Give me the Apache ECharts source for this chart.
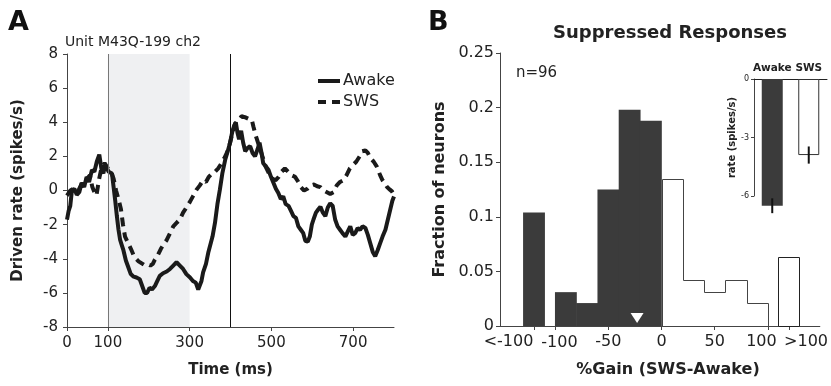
<!DOCTYPE html>
<html>
<head>
<meta charset="utf-8">
<script src="https://cdn.jsdelivr.net/npm/echarts@6/dist/echarts.min.js"></script>
<style>
  html, body { margin: 0; padding: 0; background: #fff; }
  #chart { width: 831px; height: 386px; }
</style>
</head>
<body>
<div id="chart"></div>
<script>
// Panel A: driven rate traces (ms, spikes/s)
const awakeTime = [0, 4, 8, 12, 18, 24, 30, 36, 42, 48, 54, 61, 67, 73, 79, 84, 89, 93, 97, 102, 106, 110, 114, 118, 122, 126, 130, 134, 138, 144, 150, 156, 163, 170, 178, 184, 190, 196, 202, 208, 215, 221, 227, 235, 244, 252, 260, 268, 276, 284, 292, 301, 308, 315, 321, 325, 329, 333, 340, 346, 350, 356, 362, 368, 374, 380, 387, 392, 399, 404, 409, 413, 417, 421, 426, 431, 436, 442, 448, 454, 460, 466, 471, 476, 480, 487, 493, 499, 505, 511, 517, 523, 529, 535, 542, 548, 554, 560, 566, 572, 578, 583, 589, 594, 599, 603, 609, 615, 620, 626, 632, 638, 644, 650, 656, 662, 668, 674, 681, 687, 693, 699, 705, 711, 717, 723, 730, 736, 742, 748, 754, 760, 766, 772, 779, 785, 791, 796, 800];
const awakeRate = [-1.7, -1.2, -0.9, 0.0, 0.1, -0.25, -0.1, 0.45, 0.2, 0.8, 0.5, 1.2, 1.1, 1.7, 2.1, 1.3, 1.0, 1.5, 1.4, 1.1, 1.2, 1.0, 0.2, -0.6, -1.5, -2.3, -2.9, -3.2, -3.5, -4.1, -4.5, -4.9, -5.05, -5.1, -5.2, -5.6, -6.0, -6.0, -5.7, -5.8, -5.6, -5.3, -5.0, -4.85, -4.75, -4.6, -4.4, -4.2, -4.4, -4.6, -4.9, -5.1, -5.3, -5.4, -5.8, -5.9, -5.3, -4.8, -4.3, -3.6, -3.5, -2.7, -1.9, -0.8, 0.05, 1.0, 1.8, 2.2, 2.8, 3.4, 3.8, 4.0, 3.4, 3.0, 3.5, 2.8, 2.3, 2.5, 2.6, 2.2, 2.0, 2.4, 2.8, 2.2, 1.6, 1.4, 1.2, 0.8, 0.45, 0.1, -0.15, -0.5, -0.35, -0.8, -0.9, -1.2, -1.5, -1.6, -2.1, -2.3, -2.5, -2.95, -3.0, -2.7, -2.0, -1.7, -1.3, -1.1, -0.95, -1.3, -1.5, -1.0, -0.75, -0.9, -1.7, -2.1, -2.3, -2.5, -2.7, -2.4, -2.1, -2.6, -2.5, -2.2, -2.3, -2.1, -2.2, -2.6, -3.1, -3.6, -3.85, -3.5, -3.1, -2.7, -2.3, -1.7, -1.1, -0.6, -0.35];

const swsTime = [0, 8, 16, 26, 36, 46, 56, 62, 67, 72, 78, 85, 92, 100, 108, 114, 120, 126, 132, 137, 142, 150, 156, 165, 175, 188, 196, 204, 210, 215, 222, 230, 238, 244, 252, 260, 268, 276, 284, 292, 301, 309, 317, 325, 333, 340, 347, 355, 362, 370, 378, 385, 391, 399, 405, 411, 419, 427, 435, 444, 452, 456, 462, 470, 478, 486, 494, 502, 510, 518, 525, 533, 541, 549, 558, 566, 572, 580, 588, 596, 604, 612, 620, 628, 636, 644, 652, 660, 668, 676, 684, 692, 700, 708, 716, 722, 730, 736, 742, 750, 758, 766, 772, 778, 783, 790, 795, 800];
const swsRate = [-0.3, 0.0, 0.1, -0.1, 0.4, 0.6, 0.9, 0.2, -0.1, -0.3, 0.6, 1.4, 1.6, 1.3, 1.1, 0.7, 0.0, -0.5, -1.1, -2.0, -2.7, -3.1, -3.4, -3.9, -4.15, -4.35, -4.3, -4.4, -4.3, -4.05, -3.8, -3.4, -3.1, -2.9, -2.5, -2.1, -1.9, -1.7, -1.3, -1.0, -0.65, -0.3, 0.05, 0.3, 0.6, 0.5, 0.8, 1.0, 1.1, 1.3, 1.6, 1.9, 2.2, 2.8, 3.4, 3.9, 4.1, 4.35, 4.3, 4.2, 4.15, 3.75, 3.2, 2.6, 2.0, 1.4, 1.0, 0.7, 0.6, 0.8, 1.1, 1.3, 1.1, 0.9, 0.8, 0.5, 0.2, 0.0, 0.1, 0.3, 0.35, 0.25, 0.2, 0.0, -0.1, -0.2, -0.1, 0.3, 0.5, 0.6, 0.9, 1.3, 1.5, 1.7, 2.0, 2.3, 2.35, 2.2, 1.9, 1.7, 1.4, 0.9, 0.6, 0.4, 0.2, 0.05, -0.05, -0.25];

const timeTicks = [0, 100, 300, 500, 700];
const stimWindow = [100, 300];
const eventLines = [100, 400];

// Panel B: histogram of %gain, bins of 20
const gainMin = -152;
const gainMax = 149;
const gainBinStart = [-130, -100, -80, -60, -40, -20, 0, 20, 40, 60, 80, 110];
const gainFraction = [0.104, 0.031, 0.021, 0.125, 0.198, 0.188, 0.135, 0.042, 0.031, 0.042, 0.021, 0.063];
const gainBinWidth = 20;
const gainTicks = [-120, -100, -50, 0, 50, 100, 120];
// where the tick texts sit (set a little off their ticks, as in the figure)
const gainLabelAt = [-50, 0, 50, 94];
const gainLabelText = ['-50', '0', '50', '100'];
const overflowLabelAt = [-144, 136];
const overflowLabelText = ['<-100', '>100'];
const minusHundredAt = -96;
const gainMedian = -23;

// inset: mean rate and error
const insetStates = ['Awake', 'SWS'];
const insetRate = [-6.5, -3.9];
const insetErr = [0.38, 0.44];

const FONT = 'DejaVu Sans';
const DARK = '#3b3b3b';
const AXIS = '#444';

const chart = echarts.init(document.getElementById('chart'));

const texts = [
    { type: 'text', x: 8, y: 23, style: { text: 'A', font: 'bold 27px "DejaVu Sans"', verticalAlign: 'middle', fill: '#111' } },
    { type: 'text', x: 428, y: 23, style: { text: 'B', font: 'bold 27px "DejaVu Sans"', verticalAlign: 'middle', fill: '#111' } },
    { type: 'text', x: 65, y: 42, style: { text: 'Unit M43Q-199 ch2', font: '14px "DejaVu Sans"', verticalAlign: 'middle', fill: '#222' } },
    { type: 'text', x: 670, y: 33, style: { text: 'Suppressed Responses', font: 'bold 18px "DejaVu Sans"', align: 'center', verticalAlign: 'middle', fill: '#222' } },
    { type: 'text', x: 516, y: 73, style: { text: 'n=96', font: '15px "DejaVu Sans"', verticalAlign: 'middle', fill: '#222' } },
    { type: 'text', x: 668, y: 370, style: { text: '%Gain (SWS-Awake)', font: 'bold 16px "DejaVu Sans"', align: 'center', verticalAlign: 'middle', fill: '#222' } }
];

const option = {
    animation: false,
    textStyle: { fontFamily: FONT, color: '#222' },
    graphic: texts,
    legend: {
        data: [
            { name: 'Awake', lineStyle: { width: 4 } },
            { name: 'SWS', lineStyle: { width: 4, type: [8, 6] } }
        ],
        orient: 'vertical',
        left: 311,
        top: 68,
        itemWidth: 22,
        itemHeight: 14,
        itemGap: 5,
        itemStyle: { opacity: 0 },
        textStyle: { fontSize: 16, fontFamily: FONT, color: '#222', padding: [0, 0, 0, -2] }
    },
    grid: [
        { left: 67, right: 437, top: 54, bottom: 59 },
        { left: 500, right: 3, top: 53, bottom: 60 },
        { left: 754, width: 73, top: 79, height: 117 }
    ],
    xAxis: [
        {
            gridIndex: 0, type: 'value', min: 0, max: 800,
            name: 'Time (ms)', nameLocation: 'middle', nameGap: 36,
            nameTextStyle: { fontWeight: 'bold', fontSize: 15, color: '#222' },
            axisLine: { onZero: false, lineStyle: { color: AXIS } },
            axisTick: { show: true, length: 4, customValues: timeTicks, lineStyle: { color: AXIS } },
            axisLabel: { customValues: timeTicks, fontSize: 15, color: '#222', margin: 9 },
            splitLine: { show: false }
        },
        {
            gridIndex: 1, type: 'value', min: gainMin, max: gainMax, position: 'bottom',
            axisLine: { onZero: false, lineStyle: { color: AXIS } },
            axisTick: { show: true, length: 4, customValues: gainTicks, lineStyle: { color: AXIS } },
            axisLabel: {
                customValues: [gainMin].concat(gainLabelAt, [gainMax]),
                showMinLabel: false, showMaxLabel: false,
                fontSize: 16, color: '#222', margin: 8,
                formatter: v => gainLabelText[gainLabelAt.indexOf(v)] || ''
            },
            splitLine: { show: false }
        },
        {
            gridIndex: 2, type: 'category', data: insetStates, position: 'top',
            axisLine: { onZero: false, lineStyle: { color: '#222' } },
            axisTick: { show: false },
            axisLabel: { interval: 0, fontSize: 10.5, fontWeight: 'bold', color: '#222', margin: 5 }
        },
        {
            // carries only the two overflow bin labels
            gridIndex: 1, type: 'value', min: gainMin, max: gainMax, position: 'bottom', offset: 0,
            axisLine: { show: false, onZero: false },
            axisTick: { show: false },
            axisLabel: {
                customValues: overflowLabelAt, fontSize: 16, color: '#222', margin: 8,
                formatter: v => overflowLabelText[overflowLabelAt.indexOf(v)]
            },
            splitLine: { show: false }
        }
    ],
    yAxis: [
        {
            gridIndex: 0, type: 'value', min: -8, max: 8, interval: 2,
            name: 'Driven rate (spikes/s)', nameLocation: 'middle', nameGap: 41,
            nameTextStyle: { fontWeight: 'bold', fontSize: 15, color: '#222' },
            axisLine: { show: true, onZero: false, lineStyle: { color: AXIS } },
            axisTick: { show: true, length: 4, lineStyle: { color: AXIS } },
            axisLabel: { fontSize: 15, color: '#222', margin: 9 },
            splitLine: { show: false }
        },
        {
            gridIndex: 1, type: 'value', min: 0, max: 0.25, interval: 0.05,
            name: 'Fraction of neurons', nameLocation: 'middle', nameGap: 52,
            nameTextStyle: { fontWeight: 'bold', fontSize: 16, color: '#222' },
            axisLine: { show: true, onZero: false, lineStyle: { color: AXIS } },
            axisTick: { show: true, length: 4, lineStyle: { color: AXIS } },
            axisLabel: { fontSize: 16, color: '#222', margin: 6 },
            splitLine: { show: false }
        },
        {
            gridIndex: 2, type: 'value', min: -6, max: 0, interval: 3,
            name: 'rate (spikes/s)', nameLocation: 'middle', nameGap: 16,
            nameTextStyle: { fontWeight: 'bold', fontSize: 10, color: '#222' },
            axisLine: { show: true, onZero: false, lineStyle: { color: AXIS } },
            axisTick: { show: true, length: 3, lineStyle: { color: AXIS } },
            axisLabel: { fontSize: 8, color: '#222', margin: 5 },
            splitLine: { show: false }
        }
    ],
    series: [
        {
            name: 'marks', type: 'line', xAxisIndex: 0, yAxisIndex: 0, data: [], z: 1,
            silent: true,
            markArea: {
                silent: true,
                itemStyle: { color: '#eff0f2' },
                data: [[{ xAxis: stimWindow[0] }, { xAxis: stimWindow[1] }]]
            },
            markLine: {
                silent: true, symbol: 'none', label: { show: false },
                data: eventLines.map((x, i) => ({
                    xAxis: x,
                    lineStyle: { color: i === 0 ? '#777' : '#111', width: 1, type: 'solid' }
                }))
            }
        },
        {
            name: 'Awake', type: 'line', xAxisIndex: 0, yAxisIndex: 0, z: 3,
            symbol: 'none', color: '#1a1a1a',
            lineStyle: { width: 4, color: '#1a1a1a' },
            data: awakeTime.map((t, i) => [t, awakeRate[i]])
        },
        {
            name: 'SWS', type: 'line', xAxisIndex: 0, yAxisIndex: 0, z: 3,
            symbol: 'none', color: '#1a1a1a',
            lineStyle: { width: 4, color: '#1a1a1a', type: [9, 6] },
            data: swsTime.map((t, i) => [t, swsRate[i]])
        },
        {
            name: 'histogram', type: 'custom', xAxisIndex: 1, yAxisIndex: 1, z: 2,
            data: gainBinStart.map((b, i) => [b, b + gainBinWidth, gainFraction[i]]),
            renderItem: function (params, api) {
                const i = params.dataIndex;
                const x0 = api.value(0), x1 = api.value(1), y = api.value(2);
                const a = api.coord([x0, 0]);
                const b = api.coord([x1, y]);
                if (x1 <= 0) {
                    return {
                        type: 'rect',
                        shape: { x: a[0] - 0.3, y: b[1], width: b[0] - a[0] + 0.6, height: a[1] - b[1] },
                        style: { fill: DARK }
                    };
                }
                if (x0 > 100) {
                    return {
                        type: 'rect',
                        shape: { x: Math.round(a[0]) + 0.5, y: Math.round(b[1]) + 0.5, width: Math.round(b[0] - a[0]), height: Math.round(a[1] - b[1]) },
                        style: { fill: '#fff', stroke: '#222', lineWidth: 1 }
                    };
                }
                // open histogram drawn as a stair outline
                const prevOpen = i > 0 && gainBinStart[i - 1] >= 0 && gainBinStart[i - 1] + gainBinWidth === x0;
                const nextOpen = i < gainBinStart.length - 1 && gainBinStart[i + 1] === x1;
                const pts = [
                    api.coord([x0, prevOpen ? gainFraction[i - 1] : 0]),
                    api.coord([x0, y]),
                    api.coord([x1, y])
                ];
                if (!nextOpen) pts.push(api.coord([x1, 0]));
                return {
                    type: 'polyline',
                    shape: { points: pts.map(p => [Math.round(p[0]) + 0.5, Math.round(p[1]) + 0.5]) },
                    style: { stroke: '#444', lineWidth: 1, fill: null }
                };
            }
        },
        {
            name: 'median', type: 'scatter', xAxisIndex: 1, yAxisIndex: 1, z: 5,
            symbol: 'triangle', symbolRotate: 180, symbolSize: [13, 10], symbolOffset: [0, -8],
            itemStyle: { color: '#ffffff', opacity: 1 },
            data: [[gainMedian, 0]]
        },
        {
            name: 'insetBars', type: 'bar', xAxisIndex: 2, yAxisIndex: 2, z: 2,
            barWidth: 21, clip: false,
            data: insetRate.map((v, i) => ({
                value: v,
                itemStyle: i === 0
                    ? { color: DARK }
                    : { color: '#fff', borderColor: '#333', borderWidth: 1 }
            }))
        },
        {
            name: 'insetErr', type: 'custom', xAxisIndex: 2, yAxisIndex: 2, z: 4, clip: false,
            data: insetRate.map((v, i) => [i, v - insetErr[i], v + insetErr[i]]),
            renderItem: function (params, api) {
                const lo = api.coord([api.value(0), api.value(1)]);
                const hi = api.coord([api.value(0), api.value(2)]);
                return {
                    type: 'line',
                    shape: { x1: lo[0], y1: lo[1], x2: hi[0], y2: hi[1] },
                    style: { stroke: '#111', lineWidth: 2 }
                };
            }
        }
    ]
};

chart.setOption(option);

// the "-100" tick text kept dropping out of the axis label layout, so place it from the axis scale
const p = chart.convertToPixel({ xAxisIndex: 1, yAxisIndex: 1 }, [minusHundredAt, 0]);
chart.setOption({
    graphic: texts.concat([{
        type: 'text', x: p[0], y: p[1] + 17, z: 100,
        style: { text: '-100', font: '16px "DejaVu Sans"', align: 'center', verticalAlign: 'middle', fill: '#222' }
    }])
});
</script>
</body>
</html>
